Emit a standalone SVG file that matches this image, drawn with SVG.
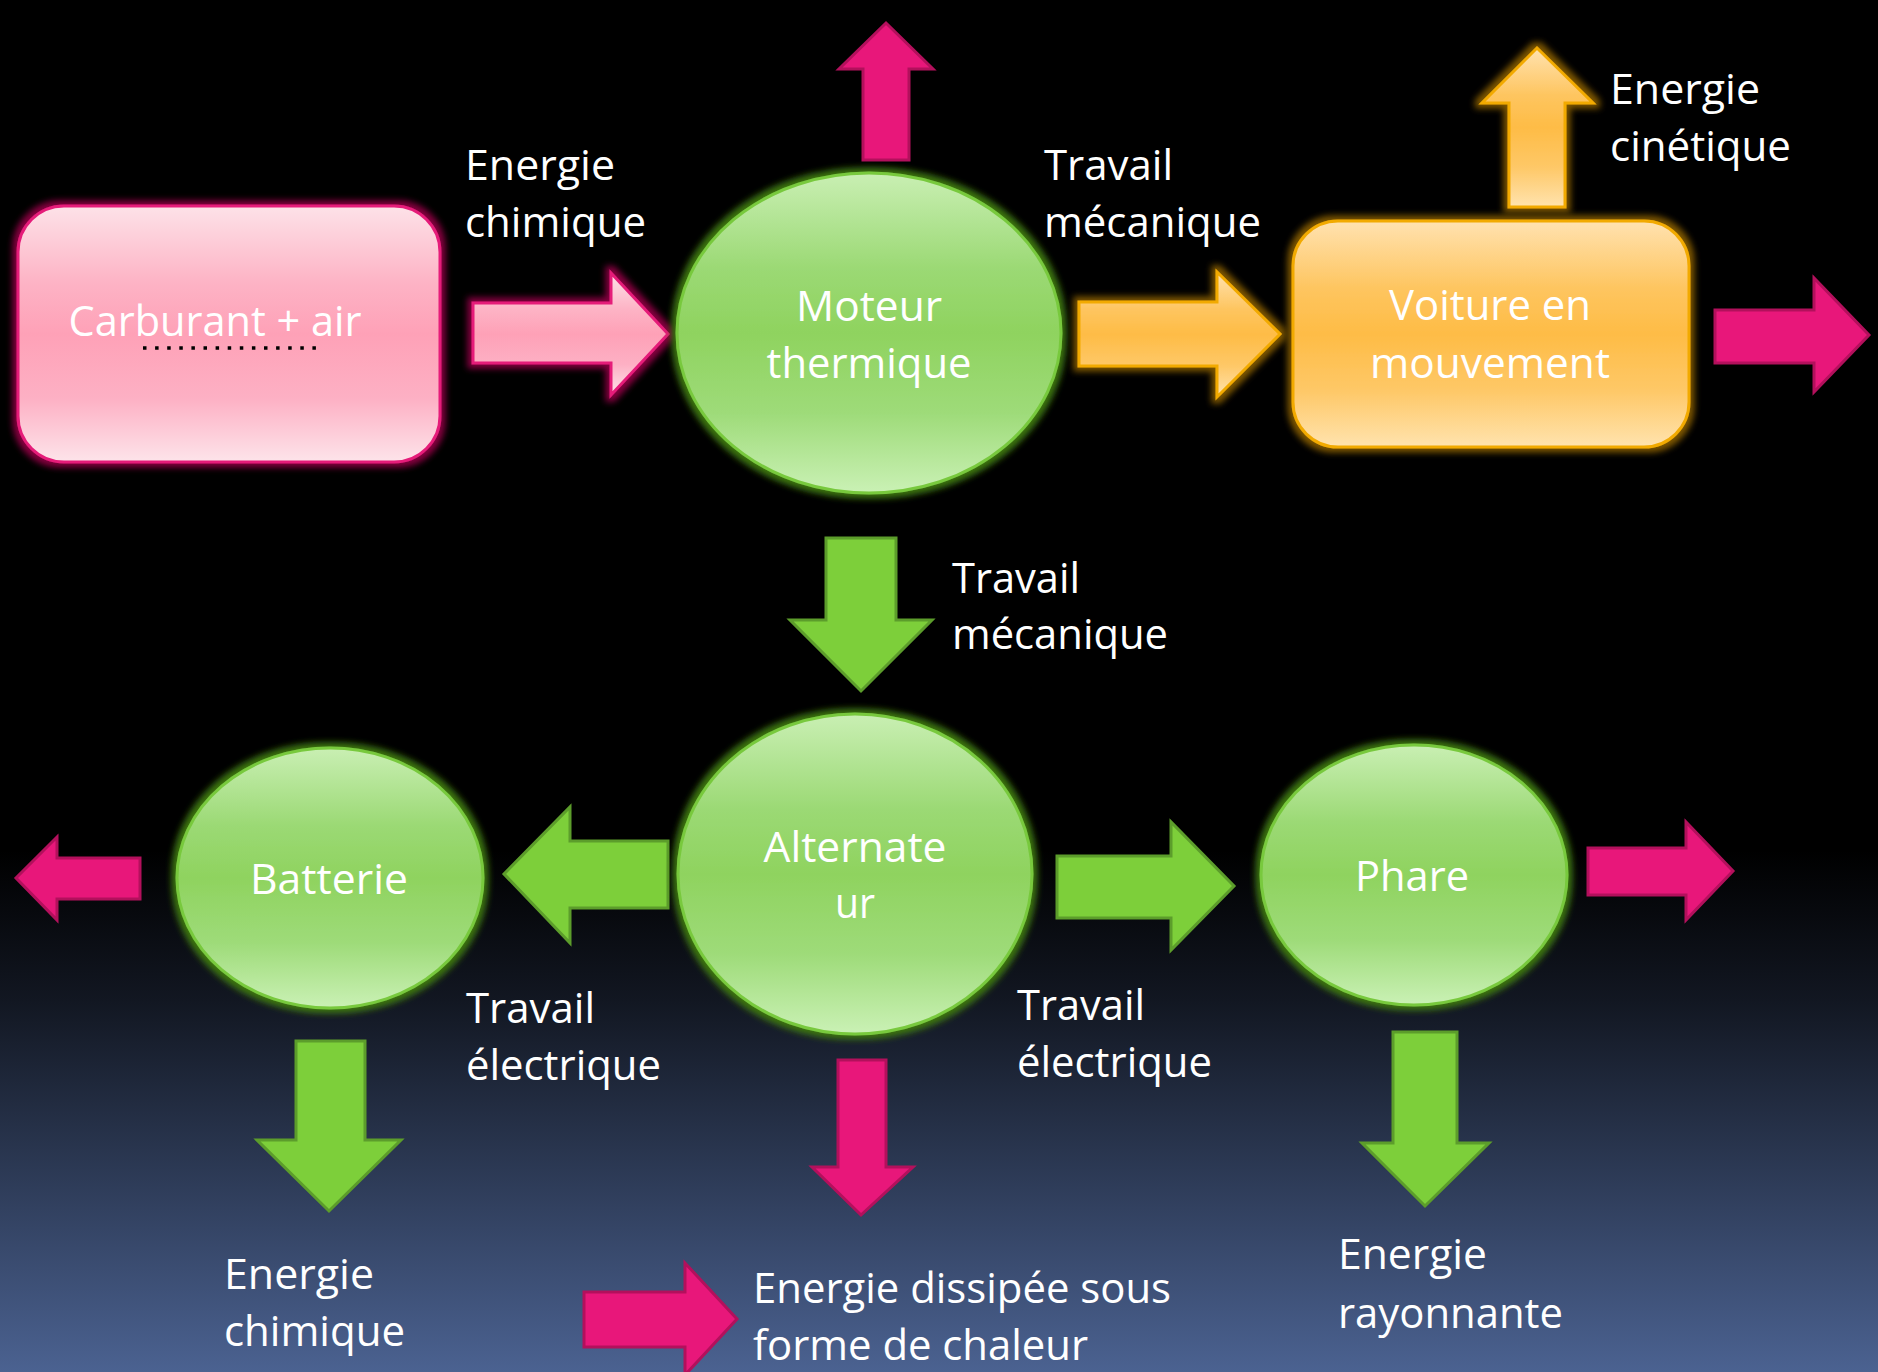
<svg xmlns="http://www.w3.org/2000/svg" width="1878" height="1372" viewBox="0 0 1878 1372">
<defs>
<linearGradient id="bg" x1="0" y1="0" x2="0" y2="1372" gradientUnits="userSpaceOnUse">
<stop offset="0" stop-color="#000000"/>
<stop offset="0.62" stop-color="#000000"/>
<stop offset="0.73" stop-color="#121722"/>
<stop offset="1" stop-color="#4b6291"/>
</linearGradient>
<linearGradient id="gGreen" x1="0" y1="0" x2="0" y2="1">
<stop offset="0" stop-color="#c9efb3"/>
<stop offset="0.3" stop-color="#9bd974"/>
<stop offset="0.5" stop-color="#8fd35f"/>
<stop offset="0.75" stop-color="#9edb79"/>
<stop offset="1" stop-color="#caf1b5"/>
</linearGradient>
<linearGradient id="gPink" x1="0" y1="0" x2="0" y2="1">
<stop offset="0" stop-color="#fde2e8"/>
<stop offset="0.3" stop-color="#fdb3c5"/>
<stop offset="0.5" stop-color="#fea1b7"/>
<stop offset="0.75" stop-color="#fdb0c4"/>
<stop offset="1" stop-color="#fde4ea"/>
</linearGradient>
<linearGradient id="gOrange" x1="0" y1="0" x2="0" y2="1">
<stop offset="0" stop-color="#ffe2b0"/>
<stop offset="0.3" stop-color="#fec55f"/>
<stop offset="0.5" stop-color="#febc46"/>
<stop offset="0.75" stop-color="#fec867"/>
<stop offset="1" stop-color="#ffe3ae"/>
</linearGradient>
<filter id="glowGreen" x="-20%" y="-20%" width="140%" height="140%">
<feMorphology in="SourceAlpha" operator="dilate" radius="4" result="d"/>
<feGaussianBlur in="d" stdDeviation="3" result="b"/>
<feFlood flood-color="#3c7412" result="c"/>
<feComposite in="c" in2="b" operator="in" result="g"/>
<feMerge><feMergeNode in="g"/><feMergeNode in="SourceGraphic"/></feMerge>
</filter>
<filter id="glowPink" x="-20%" y="-20%" width="140%" height="140%">
<feMorphology in="SourceAlpha" operator="dilate" radius="4" result="d"/>
<feGaussianBlur in="d" stdDeviation="3" result="b"/>
<feFlood flood-color="#86063f" result="c"/>
<feComposite in="c" in2="b" operator="in" result="g"/>
<feMerge><feMergeNode in="g"/><feMergeNode in="SourceGraphic"/></feMerge>
</filter>
<filter id="glowOrange" x="-20%" y="-20%" width="140%" height="140%">
<feMorphology in="SourceAlpha" operator="dilate" radius="4" result="d"/>
<feGaussianBlur in="d" stdDeviation="3" result="b"/>
<feFlood flood-color="#7d5600" result="c"/>
<feComposite in="c" in2="b" operator="in" result="g"/>
<feMerge><feMergeNode in="g"/><feMergeNode in="SourceGraphic"/></feMerge>
</filter>
<style>
text { font-family: "Open Sans", "Noto Sans", "DejaVu Sans", sans-serif; font-size: 42px; fill: #ffffff; }
.mid { text-anchor: middle; }
.nodeG { fill: url(#gGreen); stroke: #78c93d; stroke-width: 3; filter: url(#glowGreen); }
.nodeP { fill: url(#gPink); stroke: #e51a79; stroke-width: 3; filter: url(#glowPink); }
.nodeO { fill: url(#gOrange); stroke: #f2aa00; stroke-width: 3; filter: url(#glowOrange); }
.arG { fill: #7dcf3a; stroke: #5c9d2b; stroke-width: 3; }
.arM { fill: #e8177a; stroke: #b3105c; stroke-width: 3; }
.arP { fill: url(#gPink); stroke: #e51a79; stroke-width: 3; filter: url(#glowPink); }
.arO { fill: url(#gOrange); stroke: #f2aa00; stroke-width: 3; filter: url(#glowOrange); }
</style>
</defs>
<rect x="0" y="0" width="1878" height="1372" fill="url(#bg)"/>

<g id="connectors">
<polygon class="arP" points="473,303 611,303 611,273 668,334 611,395 611,363 473,363"/>
<polygon class="arM" points="863,160 863,69 839,69 886,23 933,69 909,69 909,160"/>
<polygon class="arO" points="1079,302 1217,302 1217,272 1280,334 1217,397 1217,366 1079,366"/>
<polygon class="arO" points="1509,207 1509,103 1482,103 1537,48 1593,103 1565,103 1565,207"/>
<polygon class="arM" points="1715,310 1814,310 1814,278 1869,335 1814,392 1814,363 1715,363"/>
<polygon class="arG" points="826,538 896,538 896,620 932,620 861,691 790,620 826,620"/>
<polygon class="arG" points="668,841 668,908 570,908 570,943 504,874 570,807 570,841"/>
<polygon class="arM" points="140,858 140,899 57,899 57,920 16,878 57,837 57,858"/>
<polygon class="arG" points="1057,856 1171,856 1171,822 1234,886 1171,950 1171,918 1057,918"/>
<polygon class="arM" points="1588,848 1686,848 1686,822 1733,871 1686,920 1686,895 1588,895"/>
<polygon class="arG" points="296,1041 365,1041 365,1140 401,1140 329,1211 257,1140 296,1140"/>
<polygon class="arM" points="838,1060 886,1060 886,1167 913,1167 861,1215 812,1167 838,1167"/>
<polygon class="arG" points="1393,1032 1457,1032 1457,1143 1489,1143 1425,1206 1362,1143 1393,1143"/>
<polygon class="arM" points="584,1292 685,1292 685,1263 737,1319 685,1375 685,1347 584,1347"/>
</g>

<g id="node-carburant">
<rect class="nodeP" x="18" y="206" width="422" height="256" rx="46" ry="46"/>
<text class="mid" x="215" y="336" textLength="293" lengthAdjust="spacingAndGlyphs">Carburant + air</text>
<line x1="143" y1="348" x2="316" y2="348" stroke="#000000" stroke-width="3.5" stroke-dasharray="3.5 8.6"/>
</g>

<g id="node-moteur">
<ellipse class="nodeG" cx="869" cy="333" rx="192" ry="160"/>
<text class="mid" x="869" y="321" textLength="146" lengthAdjust="spacingAndGlyphs">Moteur</text>
<text class="mid" x="869" y="378" textLength="205" lengthAdjust="spacingAndGlyphs">thermique</text>
</g>

<g id="node-voiture">
<rect class="nodeO" x="1293" y="221" width="396" height="226" rx="45" ry="45"/>
<text class="mid" x="1490" y="320" textLength="202" lengthAdjust="spacingAndGlyphs">Voiture en</text>
<text class="mid" x="1490" y="378" textLength="240" lengthAdjust="spacingAndGlyphs">mouvement</text>
</g>

<g id="node-alternateur">
<ellipse class="nodeG" cx="855" cy="874" rx="177" ry="160"/>
<text class="mid" x="855" y="862" textLength="183" lengthAdjust="spacingAndGlyphs">Alternate</text>
<text class="mid" x="855" y="918" textLength="40" lengthAdjust="spacingAndGlyphs">ur</text>
</g>

<g id="node-batterie">
<ellipse class="nodeG" cx="330" cy="878" rx="153" ry="130"/>
<text class="mid" x="329" y="894" textLength="158" lengthAdjust="spacingAndGlyphs">Batterie</text>
</g>

<g id="node-phare">
<ellipse class="nodeG" cx="1414" cy="875" rx="153" ry="130"/>
<text class="mid" x="1412" y="891" textLength="114" lengthAdjust="spacingAndGlyphs">Phare</text>
</g>

<g id="labels">
<text x="465" y="180" textLength="150" lengthAdjust="spacingAndGlyphs">Energie</text>
<text x="465" y="237" textLength="181" lengthAdjust="spacingAndGlyphs">chimique</text>
<text x="1044" y="180" textLength="129" lengthAdjust="spacingAndGlyphs">Travail</text>
<text x="1044" y="237" textLength="217" lengthAdjust="spacingAndGlyphs">mécanique</text>
<text x="1610" y="104" textLength="150" lengthAdjust="spacingAndGlyphs">Energie</text>
<text x="1610" y="161" textLength="181" lengthAdjust="spacingAndGlyphs">cinétique</text>
<text x="952" y="593" textLength="128" lengthAdjust="spacingAndGlyphs">Travail</text>
<text x="952" y="649" textLength="216" lengthAdjust="spacingAndGlyphs">mécanique</text>
<text x="466" y="1023" textLength="129" lengthAdjust="spacingAndGlyphs">Travail</text>
<text x="466" y="1080" textLength="195" lengthAdjust="spacingAndGlyphs">électrique</text>
<text x="1017" y="1020" textLength="128" lengthAdjust="spacingAndGlyphs">Travail</text>
<text x="1017" y="1077" textLength="195" lengthAdjust="spacingAndGlyphs">électrique</text>
<text x="224" y="1289" textLength="150" lengthAdjust="spacingAndGlyphs">Energie</text>
<text x="224" y="1346" textLength="181" lengthAdjust="spacingAndGlyphs">chimique</text>
<text x="753" y="1303" textLength="418" lengthAdjust="spacingAndGlyphs">Energie dissipée sous</text>
<text x="753" y="1360" textLength="335" lengthAdjust="spacingAndGlyphs">forme de chaleur</text>
<text x="1338" y="1269" textLength="149" lengthAdjust="spacingAndGlyphs">Energie</text>
<text x="1338" y="1328" textLength="225" lengthAdjust="spacingAndGlyphs">rayonnante</text>
</g>
</svg>
